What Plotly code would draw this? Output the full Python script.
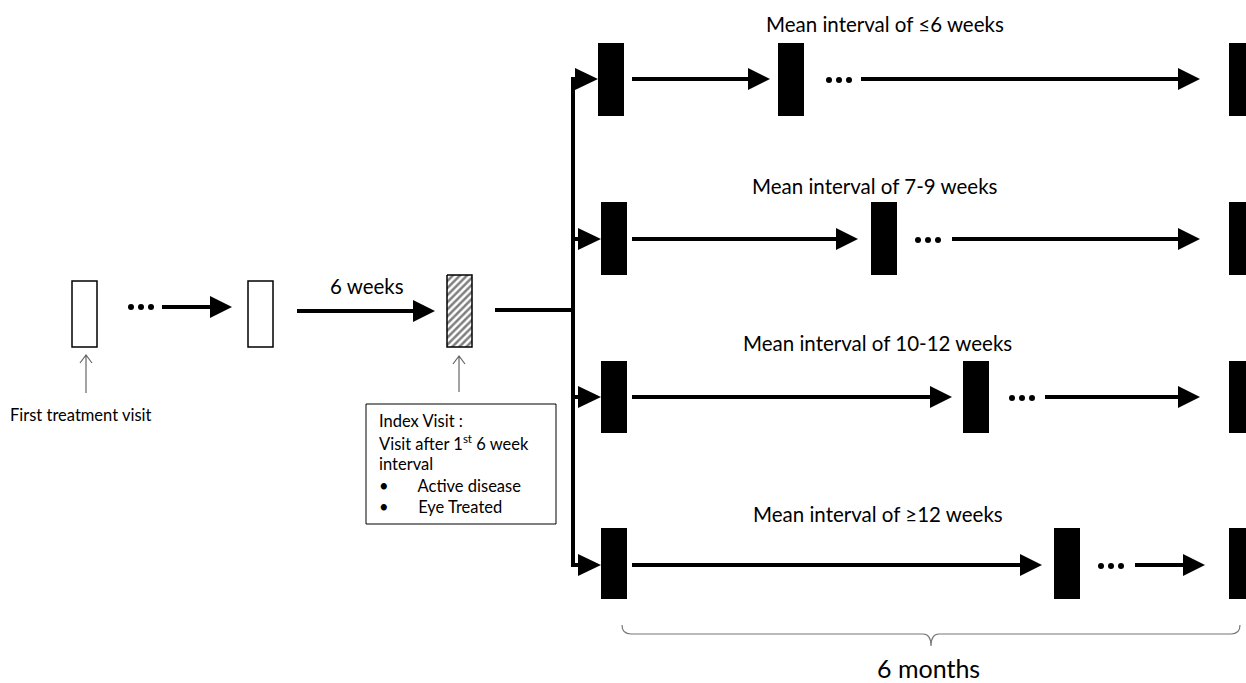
import plotly.graph_objects as go

W, H = 1246, 683
FONT = "Lato"

# ---- content ----
row_titles = ["Mean interval of ≤6 weeks", "Mean interval of 7-9 weeks",
              "Mean interval of 10-12 weeks", "Mean interval of ≥12 weeks"]
index_lines = ["Index Visit :", "Visit after 1<sup>st</sup> 6 week", "interval",
               "•       Active disease", "•       Eye Treated"]
first_label = "First treatment visit"
gap_label = "6 weeks"
span_label = "6 months"

# ---- diagram geometry (pixel space) ----
row_y = [79, 239, 397, 565]            # centre line of each follow-up row
row_box_top = [43, 202, 361, 528]
row_box_bot = [116, 275, 433, 599]
row_box1_x = [598, 601, 601, 601]
row_arrow1_end = [770, 858, 952, 1042]
row_box2_x = [778, 871, 963, 1054]
row_dots_x = [829, 918, 1012, 1101]
row_arrow2_start = [861, 952, 1045, 1135]
row_arrow2_end = [1200, 1200, 1200, 1205]
row_title_y = [24, 186, 343, 514]
row_title_x = [885, 875, 877, 878]
BOXW = 26
LAST_X = 1229

shapes = []
annotations = []
traces = []


def arrow(x0, x1, y, width=4, hl=22, hh=11, color="black"):
    shapes.append(dict(type="line", x0=x0, x1=x1 - hl + 2, y0=y, y1=y,
                       line=dict(color=color, width=width)))
    shapes.append(dict(type="path",
                       path=f"M {x1-hl},{y-hh} L {x1},{y} L {x1-hl},{y+hh} Z",
                       fillcolor=color, line=dict(color=color, width=0)))


def rect(x0, x1, y0, y1, fill="black", lw=0):
    shapes.append(dict(type="rect", x0=x0, x1=x1, y0=y0, y1=y1,
                       fillcolor=fill, line=dict(color="black", width=lw)))


def dots(x, y, n=3, step=10, size=6):
    traces.append(go.Scatter(x=[x + i * step for i in range(n)], y=[y] * n,
                             mode="markers", marker=dict(color="black", size=size),
                             hoverinfo="skip", showlegend=False))


def up_arrow(x, y_bottom, y_top):
    shapes.append(dict(type="path",
                       path=f"M {x},{y_bottom} L {x},{y_top} M {x-6},{y_top+8} L {x},{y_top} L {x+6},{y_top+8}",
                       line=dict(color="#666666", width=1.2)))


def text(x, y, s, size, anchor="center", color="black"):
    annotations.append(dict(x=x, y=y, text=s, showarrow=False, xanchor=anchor,
                            yanchor="middle", font=dict(family=FONT, size=size, color=color)))


# ---- left part ----
rect(72, 97, 281, 347, fill="white", lw=1.5)
rect(248, 273, 281, 347, fill="white", lw=1.5)
dots(131, 307, step=10, size=6)
arrow(162, 232, 307)
up_arrow(86, 393, 355)
text(8, 415, first_label, 16.5, anchor="left")

arrow(297, 435, 311)
text(367, 286, gap_label, 20.5)

# hatched index box
traces.append(go.Scatter(x=[447, 472, 472, 447, 447], y=[275, 275, 347, 347, 275],
                         mode="lines", fill="toself",
                         fillpattern=dict(shape="/", fgcolor="black", bgcolor="white",
                                          size=5, solidity=0.5),
                         line=dict(color="black", width=1.5),
                         hoverinfo="skip", showlegend=False))
up_arrow(459, 392, 356)

# index visit box
rect(366, 556, 404, 524, fill="white", lw=1)
for i, s in enumerate(index_lines):
    text(377, 421 + i * 21.5, s, 16.5, anchor="left")

# connector + vertical spine
shapes.append(dict(type="line", x0=495, x1=573, y0=310, y1=310, line=dict(color="black", width=4)))
shapes.append(dict(type="line", x0=573, x1=573, y0=row_y[0] - 2, y1=row_y[-1] + 2,
                   line=dict(color="black", width=4)))

# ---- follow-up rows ----
for i in range(4):
    y = row_y[i]
    arrow(571, row_box1_x[i], y, hl=23, hh=11)
    rect(row_box1_x[i], row_box1_x[i] + BOXW, row_box_top[i], row_box_bot[i])
    arrow(632, row_arrow1_end[i], y)
    rect(row_box2_x[i], row_box2_x[i] + BOXW, row_box_top[i], row_box_bot[i])
    dots(row_dots_x[i], y + 1, step=10, size=6)
    arrow(row_arrow2_start[i], row_arrow2_end[i], y)
    rect(LAST_X, LAST_X + BOXW, row_box_top[i], row_box_bot[i])
    text(row_title_x[i], row_title_y[i], row_titles[i], 20.5)

# ---- brace ----
bx0, bx1, by, bm = 622, 1240, 634, 931
shapes.append(dict(type="path",
                   path=(f"M {bx0},{by-9} Q {bx0},{by} {bx0+9},{by} L {bm-8},{by} "
                         f"Q {bm},{by} {bm},{by+12} Q {bm},{by} {bm+8},{by} "
                         f"L {bx1-9},{by} Q {bx1},{by} {bx1},{by-9}"),
                   line=dict(color="#777777", width=1.2)))
text(928, 668, span_label, 25)

fig = go.Figure(traces)
fig.update_layout(
    width=W, height=H, margin=dict(l=0, r=0, t=0, b=0),
    paper_bgcolor="white", plot_bgcolor="white",
    xaxis=dict(range=[0, W], visible=False, fixedrange=True),
    yaxis=dict(range=[H, 0], visible=False, fixedrange=True),
    shapes=shapes, annotations=annotations, showlegend=False,
)
fig.write_html("out.html", config={"displayModeBar": False},
               post_script="document.body.style.margin='0';document.body.style.overflow='hidden';")
